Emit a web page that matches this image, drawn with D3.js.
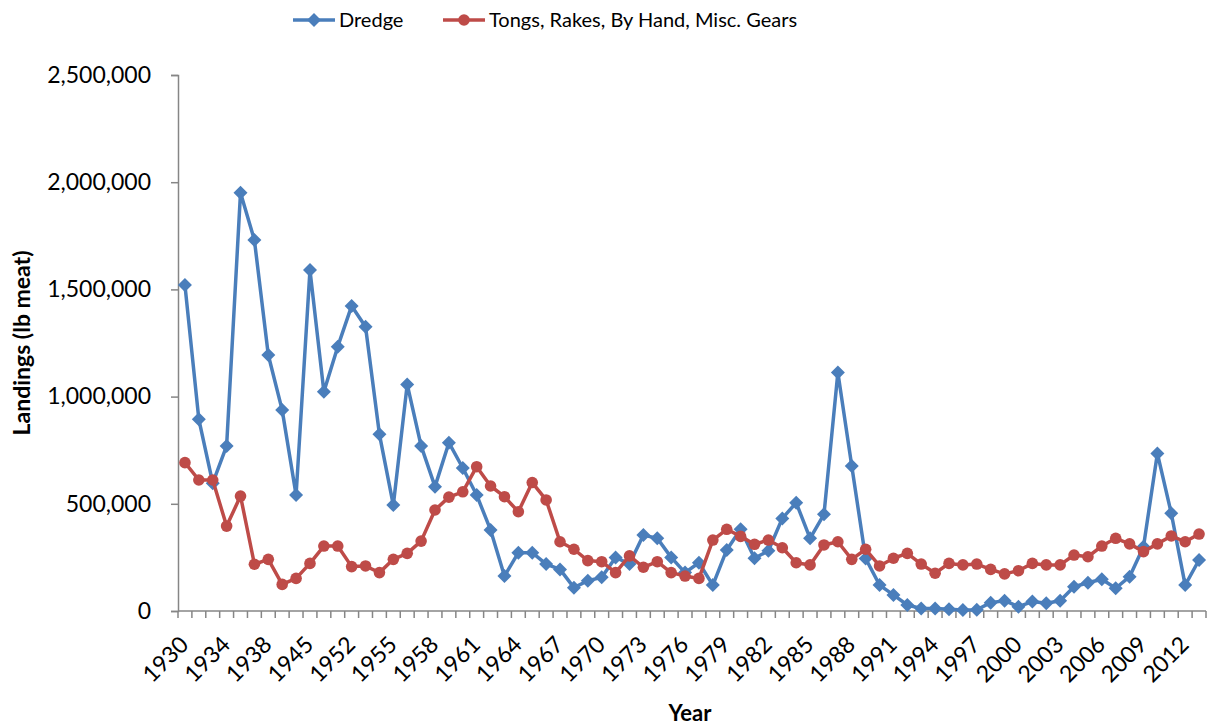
<!DOCTYPE html>
<html lang="en">
<head>
    <meta charset="UTF-8">
    <title>Landings by gear</title>
    <script src="https://d3js.org/d3.v7.min.js"></script>
</head>
<style>
    html,body {
        margin: 0;
        padding: 0;
        background: #fff;
    }
    text {
        font-family: Lato, "Open Sans", sans-serif;
        fill: #000;
    }
</style>
<body>
    <div id="chart"></div>
</body>
<script>
    // categories (year labels, only every third one is shown)
    const years = [1930, 1931, 1932, 1934, 1935, 1936, 1938, 1939, 1940, 1945, 1947, 1950,
        1952, 1953, 1954, 1955, 1956, 1957, 1958, 1959, 1960, 1961, 1962, 1963, 1964, 1965,
        1966, 1967, 1968, 1969, 1970, 1971, 1972, 1973, 1974, 1975, 1976, 1977, 1978, 1979,
        1980, 1981, 1982, 1983, 1984, 1985, 1986, 1987, 1988, 1989, 1990, 1991, 1992, 1993,
        1994, 1995, 1996, 1997, 1998, 1999, 2000, 2001, 2002, 2003, 2004, 2005, 2006, 2007,
        2008, 2009, 2010, 2011, 2012, 2013];

    const dredge = [1520000, 894000, 596000, 770000, 1951000, 1730000, 1194000, 937000, 541000, 1590000,
        1023000, 1233000, 1423000, 1326000, 824000, 494000, 1057000, 770000, 580000, 785000,
        667000, 541000, 378000, 163000, 272000, 272000, 219000, 194000, 109000, 141000,
        157000, 250000, 219000, 354000, 339000, 250000, 179000, 225000, 121000, 285000,
        381000, 246000, 281000, 432000, 505000, 339000, 451000, 1112000, 676000, 245000,
        121000, 75000, 28000, 12000, 12000, 8000, 5000, 6000, 39000, 48000,
        20000, 44000, 36000, 48000, 113000, 132000, 148000, 106000, 160000, 300000,
        735000, 456000, 121000, 238000];

    const tongs = [692000, 611000, 611000, 396000, 536000, 218000, 241000, 124000, 152000, 222000,
        303000, 303000, 207000, 210000, 179000, 241000, 269000, 326000, 471000, 531000,
        556000, 673000, 583000, 533000, 463000, 599000, 518000, 323000, 288000, 235000,
        230000, 179000, 257000, 204000, 230000, 179000, 163000, 152000, 331000, 381000,
        348000, 311000, 331000, 295000, 225000, 215000, 308000, 323000, 241000, 288000,
        210000, 246000, 269000, 219000, 176000, 222000, 215000, 219000, 194000, 173000,
        188000, 222000, 215000, 215000, 261000, 253000, 303000, 339000, 313000, 277000,
        313000, 350000, 323000, 359000];

    const yTicks = [0, 500000, 1000000, 1500000, 2000000, 2500000];

    const width = 1208;
    const height = 726;
    const margin = {top: 75, right: 2, bottom: 115, left: 178};
    const axisColor = '#868686';
    const blue = '#4a7ebb';
    const red = '#be4b48';

    const svg = d3.select('#chart').append('svg')
        .attr('width', width)
        .attr('height', height);

    const x = d3.scaleBand()
        .domain(years)
        .range([margin.left, width - margin.right]);

    const y = d3.scaleLinear()
        .domain([0, 2500000])
        .range([height - margin.bottom, margin.top]);

    // y axis
    const yAxis = svg.append('g')
        .attr('transform', `translate(${margin.left},0)`)
        .call(d3.axisLeft(y).tickValues(yTicks).tickFormat(d3.format(',')).tickSize(7).tickPadding(20));
    yAxis.select('.domain').attr('stroke', axisColor).attr('stroke-width', 1.5);
    yAxis.selectAll('.tick line').attr('stroke', axisColor).attr('stroke-width', 1.5);
    yAxis.selectAll('.tick text').attr('font-size', '23px').attr('fill', '#000');

    // x axis: tick marks between categories, label every third category
    const xg = svg.append('g');
    xg.append('line')
        .attr('x1', margin.left).attr('x2', width - margin.right)
        .attr('y1', y(0)).attr('y2', y(0))
        .attr('stroke', axisColor).attr('stroke-width', 1.5);
    xg.selectAll('line.tk').data(years.concat(['end'])).enter().append('line')
        .attr('class', 'tk')
        .attr('x1', (d, i) => margin.left + i * x.bandwidth())
        .attr('x2', (d, i) => margin.left + i * x.bandwidth())
        .attr('y1', y(0)).attr('y2', y(0) + 7)
        .attr('stroke', axisColor).attr('stroke-width', 1.5);
    xg.selectAll('text').data(years.filter((d, i) => i % 3 === 0)).enter().append('text')
        .attr('font-size', '23px')
        .attr('text-anchor', 'end')
        .attr('transform', d => `translate(${x(d) + x.bandwidth() / 2 + 5},${y(0) + 35}) rotate(-45)`)
        .text(d => d);

    // axis titles
    svg.append('text')
        .attr('x', 690).attr('y', 721)
        .attr('text-anchor', 'middle')
        .attr('font-size', '22px')
        .attr('font-weight', 'bold')
        .text('Year');
    svg.append('text')
        .attr('transform', `translate(30,${(y(0) + y(2500000)) / 2}) rotate(-90)`)
        .attr('text-anchor', 'middle')
        .attr('font-size', '23px')
        .attr('font-weight', 'bold')
        .text('Landings (lb meat)');

    const diamond = 'M0,-7L7,0L0,7L-7,0Z';
    const cx = (d, i) => x(years[i]) + x.bandwidth() / 2;
    const line = d3.line().x(cx).y(d => y(d));

    function drawSeries(values, color, shape) {
        const g = svg.append('g');
        g.append('path')
            .datum(values)
            .attr('fill', 'none')
            .attr('stroke', color)
            .attr('stroke-width', 3.5)
            .attr('stroke-linejoin', 'round')
            .attr('d', line);
        if (shape === 'diamond') {
            g.selectAll('path.m').data(values).enter().append('path')
                .attr('class', 'm')
                .attr('d', diamond)
                .attr('fill', color)
                .attr('transform', (d, i) => `translate(${cx(d, i)},${y(d)})`);
        } else {
            g.selectAll('circle').data(values).enter().append('circle')
                .attr('cx', cx)
                .attr('cy', d => y(d))
                .attr('r', 5.8)
                .attr('fill', color);
        }
    }

    drawSeries(dredge, blue, 'diamond');
    drawSeries(tongs, red, 'circle');

    // legend
    const legend = [
        {name: 'Dredge', color: blue, shape: 'diamond', x: 293},
        {name: 'Tongs, Rakes, By Hand, Misc. Gears', color: red, shape: 'circle', x: 443}
    ];
    const lg = svg.selectAll('g.legend').data(legend).enter().append('g')
        .attr('class', 'legend')
        .attr('transform', d => `translate(${d.x},20)`);
    lg.append('line')
        .attr('x1', 0).attr('x2', 42)
        .attr('stroke', d => d.color)
        .attr('stroke-width', 3.5);
    lg.filter(d => d.shape === 'diamond').append('path')
        .attr('d', diamond)
        .attr('transform', 'translate(21,0)')
        .attr('fill', d => d.color);
    lg.filter(d => d.shape === 'circle').append('circle')
        .attr('cx', 21)
        .attr('r', 5.8)
        .attr('fill', d => d.color);
    lg.append('text')
        .attr('x', 46)
        .attr('dy', '0.35em')
        .attr('font-size', '20px')
        .text(d => d.name);
</script>
</html>
